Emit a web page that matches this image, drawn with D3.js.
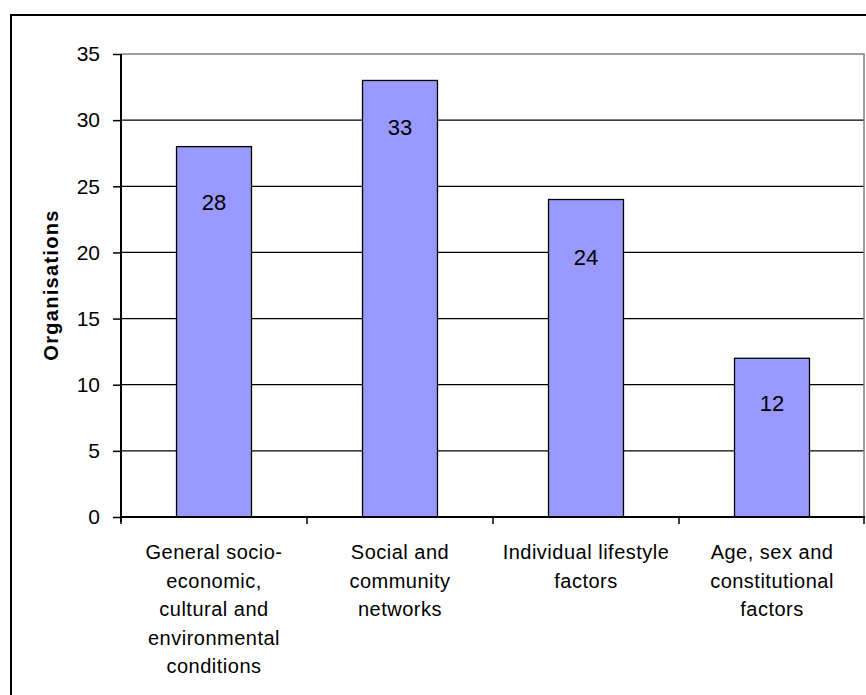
<!DOCTYPE html>
<html>
<head>
<meta charset="utf-8">
<script src="https://cdn.jsdelivr.net/npm/d3@7"></script>
<style>
  html, body { margin: 0; padding: 0; background: #fff; }
  svg { display: block; font-family: "Liberation Sans", Arial, sans-serif; }
</style>
</head>
<body>
<svg id="chart" width="866" height="695"></svg>
<script>
const categories = [
  ["General socio-", "economic,", "cultural and", "environmental", "conditions"],
  ["Social and", "community", "networks"],
  ["Individual lifestyle", "factors"],
  ["Age, sex and", "constitutional", "factors"]
];
const values = [28, 33, 24, 12];
const yTicks = [0, 5, 10, 15, 20, 25, 30, 35];
const yTitle = "Organisations";
const labelDy = [56, 47, 58, 45];

(function () {
const svg = d3.select("#chart");
const pLeft = 121, pRight = 864, pTop = 54, pBottom = 517;

// outer frame
svg.append("rect").attr("x", 11).attr("y", 15).attr("width", 900).attr("height", 800)
  .attr("fill", "none").attr("stroke", "#000").attr("stroke-width", 2);

const x = d3.scaleBand().domain(d3.range(values.length)).range([pLeft, pRight + 1])
  .paddingInner(0.597).paddingOuter(0.2985);
const y = d3.scaleLinear().domain([0, 35]).range([pBottom, pTop]);

// gridlines
svg.append("g").selectAll("line").data(yTicks.filter(t => t > 0 && t < 35)).join("line")
  .attr("x1", pLeft).attr("x2", pRight).attr("y1", d => y(d)).attr("y2", d => y(d))
  .attr("stroke", "#000").attr("stroke-width", 1.3);

// plot border top & right (gray)
svg.append("path").attr("d", `M${pLeft},${y(35)}H${pRight}V${pBottom}`)
  .attr("fill", "none").attr("stroke", "#808080").attr("stroke-width", 1.5);

// bars
svg.append("g").selectAll("rect").data(values).join("rect")
  .attr("x", (d, i) => x(i)).attr("width", x.bandwidth())
  .attr("y", d => y(d)).attr("height", d => pBottom - y(d))
  .attr("fill", "#9999FF").attr("stroke", "#000").attr("stroke-width", 1.3);

// value labels
svg.append("g").selectAll("text").data(values).join("text")
  .attr("x", (d, i) => x(i) + x.bandwidth() / 2)
  .attr("y", (d, i) => y(d) + labelDy[i])
  .attr("dy", "0.35em").attr("text-anchor", "middle")
  .attr("font-size", 22).attr("fill", "#000").text(d => d);

// y axis
const yAxis = d3.axisLeft(y).tickValues(yTicks).tickSize(8).tickPadding(13);
const gy = svg.append("g").attr("transform", `translate(${pLeft},0)`).call(yAxis);
gy.select(".domain").attr("stroke", "#000").attr("stroke-width", 2).attr("d", `M0,${pTop}V${pBottom + 5}`);
gy.selectAll(".tick line").attr("stroke", "#000").attr("stroke-width", 1.5);
gy.selectAll(".tick text").attr("font-size", 21).attr("fill", "#000")
  .attr("font-family", "Liberation Sans, Arial, sans-serif");

// x axis
const step = x.step();
const xb = d3.scaleLinear().domain([0, values.length]).range([pLeft, pLeft + step * values.length]);
const gx = svg.append("g");
gx.append("line").attr("x1", pLeft).attr("x2", pRight + 1).attr("y1", pBottom).attr("y2", pBottom)
  .attr("stroke", "#000").attr("stroke-width", 2);
gx.selectAll("line.tk").data(d3.range(values.length + 1)).join("line").attr("class", "tk")
  .attr("x1", d => Math.min(xb(d), pRight)).attr("x2", d => Math.min(xb(d), pRight))
  .attr("y1", pBottom).attr("y2", pBottom + 7)
  .attr("stroke", "#000").attr("stroke-width", 1.5);

// category labels
const cl = svg.append("g").selectAll("text").data(categories).join("text")
  .attr("x", (d, i) => x(i) + x.bandwidth() / 2)
  .attr("y", 559).attr("text-anchor", "middle").attr("font-size", 20)
  .attr("letter-spacing", 0.5).attr("fill", "#000");
cl.selectAll("tspan").data(d => d).join("tspan")
  .attr("x", function () { return this.parentNode.getAttribute("x"); })
  .attr("dy", (d, j) => j === 0 ? 0 : 28.5).text(d => d);

// y title
svg.append("text").attr("transform", `translate(58,285) rotate(-90)`)
  .attr("text-anchor", "middle").attr("font-size", 20).attr("font-weight", "bold")
  .attr("letter-spacing", 1.3).attr("fill", "#000").text(yTitle);
})();
</script>
</body>
</html>
